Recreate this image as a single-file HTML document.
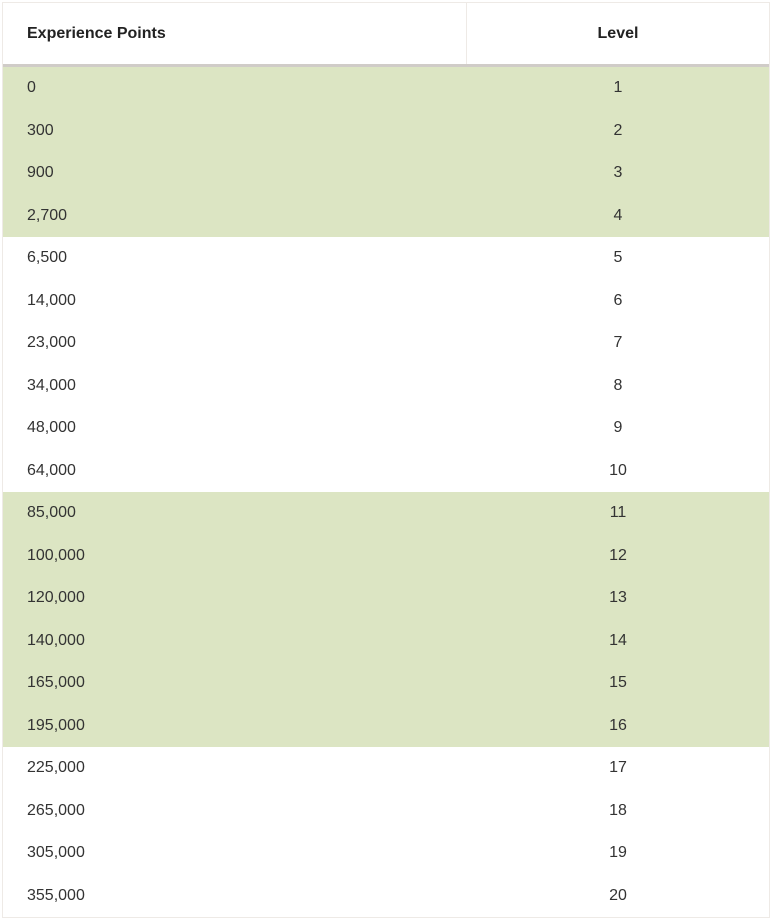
<!DOCTYPE html>
<html><head><meta charset="utf-8"><style>
body{margin:0;background:#fff;width:770px;height:920px;overflow:hidden;font-family:"Liberation Sans",sans-serif;}
#wrap{position:absolute;left:2px;top:2px;width:766px;border:1px solid #eeeae6;border-bottom:1px solid #eeeae6;}
.hdr{display:flex;height:61px;border-bottom:3px solid #d0ccc8;font-weight:bold;color:#222;font-size:16px;}
.hdr div{display:flex;align-items:center;}
.c1{width:464px;padding-left:24px;box-sizing:border-box;}
.c2{flex:1;justify-content:center;}
.hdr .c1{border-right:1px solid #eeeae6;}
.row{display:flex;height:42.5px;align-items:center;font-size:16px;color:#333;}
.row .c2{display:flex;justify-content:center;}
.g{background:#dce5c3;}
</style></head><body>
<div id="wrap">
<div class="hdr">
<div class="c1">Experience Points</div>
<div class="c2">Level</div>
</div>
<div id="body"></div>
</div>
<script>
const xp=["0","300","900","2,700","6,500","14,000","23,000","34,000","48,000","64,000","85,000","100,000","120,000","140,000","165,000","195,000","225,000","265,000","305,000","355,000"];
const levels=[1,2,3,4,5,6,7,8,9,10,11,12,13,14,15,16,17,18,19,20];
const green=[1,1,1,1,0,0,0,0,0,0,1,1,1,1,1,1,0,0,0,0];
const b=document.getElementById('body');
xp.forEach((v,i)=>{
 const r=document.createElement('div');
 r.className='row'+(green[i]?' g':'');
 
 
 const a=document.createElement('div');a.className='c1';a.textContent=v;
 
 
 const c=document.createElement('div');c.className='c2';c.textContent=levels[i];
 
 
 r.appendChild(a);r.appendChild(c);b.appendChild(r);
});
</script>
</body></html>
